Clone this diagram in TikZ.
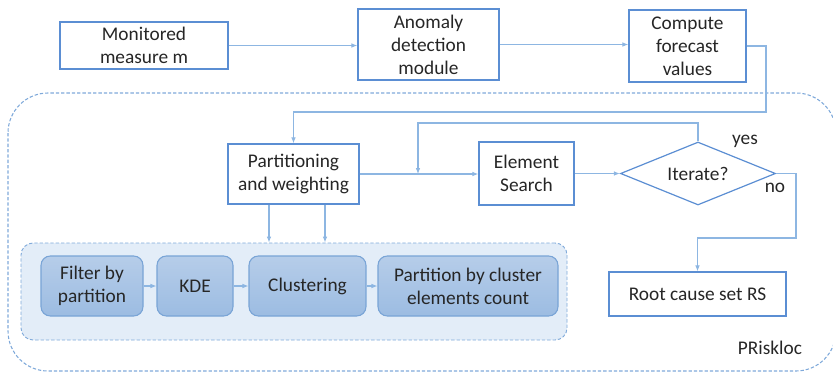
\documentclass[tikz,border=0pt]{standalone}
\usepackage{fontspec}
\setmainfont{Carlito}
\usetikzlibrary{shapes.geometric,arrows.meta}
\definecolor{boxline}{HTML}{5B8ED3}
\definecolor{conn}{HTML}{8DB6E2}
\definecolor{grpfill}{HTML}{E3EDF8}
\definecolor{grpline}{HTML}{7FA9DA}
\definecolor{intop}{HTML}{B6CDE9}
\definecolor{inbot}{HTML}{9CBCE2}
\definecolor{inline}{HTML}{79A4D6}
\definecolor{txt}{HTML}{262626}
\begin{document}
\begin{tikzpicture}[x=0.75pt,y=-0.75pt,
  every node/.style={font=\fontsize{14.5}{17.25}\selectfont, text=txt, align=center, inner sep=0pt},
  plainbox/.style={draw=boxline, line width=0.9pt, fill=white, rectangle},
  innerbox/.style={draw=inline, line width=0.8pt, rounded corners=7pt, top color=intop, bottom color=inbot, rectangle},
  arr/.style={draw=conn, line width=0.8pt, -{Latex[length=4.5pt,width=3.5pt]}},
  fine dash/.style={dash pattern=on 2.5pt off 1.5pt}]
\useasboundingbox (0,0) rectangle (833,372);
% outer dashed region
\draw[draw=grpline, fine dash, line width=0.8pt, rounded corners=30pt] (8,93) rectangle (836,371);
% top row
\node[plainbox, minimum width=126pt, minimum height=35.25pt] (mon) at (144,45.5) {Monitored\\measure m};
\node[plainbox, minimum width=105.75pt, minimum height=53.25pt] (ano) at (428.5,44.5) {Anomaly\\detection\\module};
\node[plainbox, minimum width=87.75pt, minimum height=54pt] (comp) at (687.5,46) {Compute\\forecast\\values};
% middle row
\node[plainbox, minimum width=98.25pt, minimum height=45pt] (part) at (293.5,174) {Partitioning\\and weighting};
\node[plainbox, minimum width=71.25pt, minimum height=47.25pt] (elem) at (526.5,173.5) {Element\\Search};
\node[diamond, draw=boxline, line width=0.9pt, fill=white, minimum width=116.25pt, minimum height=47.25pt, aspect=2.4] (dia) at (698,173.5) {Iterate?};
\node (yes) at (745,141) {yes};
\node (no) at (775,188) {no};
\node[plainbox, minimum width=132.75pt, minimum height=33pt] (root) at (697.5,294) {Root cause set RS};
\node (prisk) at (770,348) {PRiskloc};
% group
\node[draw=grpline, fine dash, line width=0.7pt, fill=grpfill, rounded corners=9pt, minimum width=409.5pt, minimum height=72.75pt] (grp) at (294,291.5) {};
\node[innerbox, minimum width=76.5pt, minimum height=45pt] (filt) at (92,286) {Filter by\\partition};
\node[innerbox, minimum width=57pt, minimum height=45pt] (kde) at (195,286) {KDE};
\node[innerbox, minimum width=87.75pt, minimum height=45pt] (clus) at (307.5,286) {Clustering};
\node[innerbox, minimum width=135pt, minimum height=45pt] (pbc) at (468,286) {Partition by cluster\\elements count};
% connectors
\coordinate (c1) at (766,112);
\coordinate (c2) at (418,123);
\coordinate (c4) at (796,238);
\draw[arr] (mon.east) -- (mon.east -| ano.west);
\draw[arr] (ano.east) -- (ano.east -| comp.west);
\draw[arr] (comp.east) -| (c1) -| (part.north);
\draw[arr] (part.east) -- (part.east -| elem.west);
\draw[arr] (dia.north) |- (c2) -- (c2 |- part.east);
\draw[arr] (elem.east) -- (dia.west);
\draw[arr] (dia.east) -| (c4) -| (root.north);
\draw[arr] ([xshift=-18.375pt]part.south) -- ([xshift=-18.375pt]part.south |- grp.north);
\draw[arr] ([xshift=23.625pt]part.south) -- ([xshift=23.625pt]part.south |- grp.north);
\draw[arr] (filt.east) -- (kde.west);
\draw[arr] (kde.east) -- (clus.west);
\draw[arr] (clus.east) -- (pbc.west);
\end{tikzpicture}
\end{document}
